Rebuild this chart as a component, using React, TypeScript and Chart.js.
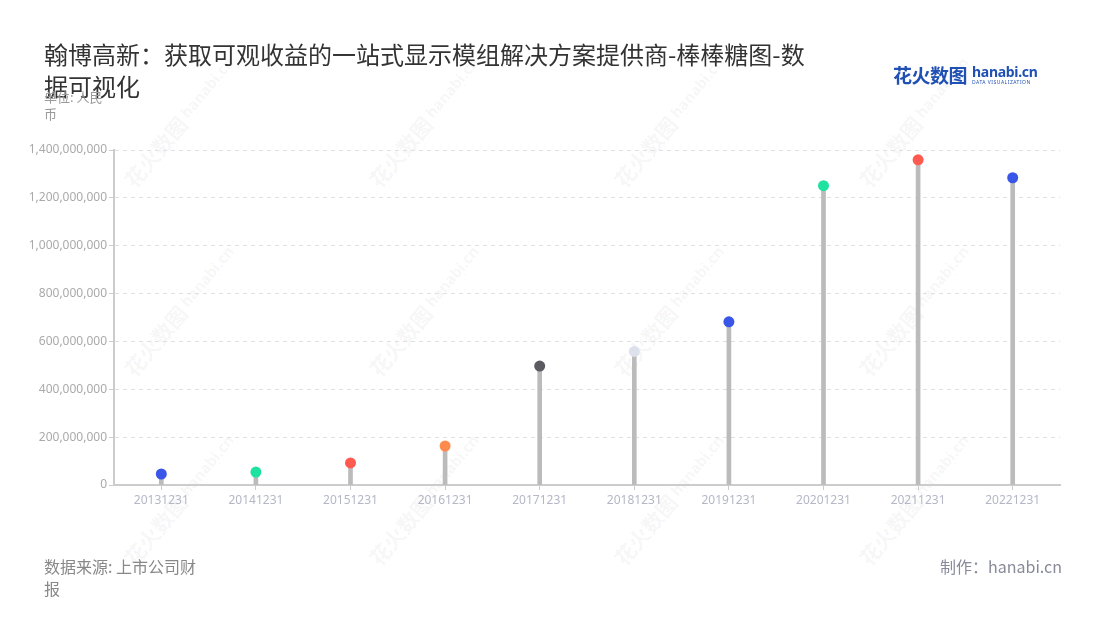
import React, { useEffect, useRef } from "react";
import { Chart, registerables } from "chart.js";

Chart.register(...registerables);

const categories = ["20131231", "20141231", "20151231", "20161231", "20171231", "20181231", "20191231", "20201231", "20211231", "20221231"];
const values = [46000000, 54000000, 92000000, 163000000, 497000000, 558000000, 682000000, 1251000000, 1359000000, 1284000000];
const dotColors = ["#3a56e8", "#1ee3a0", "#ff5a50", "#ff8a4e", "#5b5a62", "#dde1ec", "#3a56e8", "#1ee3a0", "#ff5a50", "#3a56e8"];
const yTicks = [0, 200000000, 400000000, 600000000, 800000000, 1000000000, 1200000000, 1400000000];

const titleLines = ["翰博高新：获取可观收益的一站式显示模组解决方案提供商-棒棒糖图-数", "据可视化"];
const unitLines = ["单位: 人民", "币"];
const sourceLines = ["数据来源: 上市公司财", "报"];
const credit = "制作：hanabi.cn";

const wmX = [180, 425, 670, 915];
const wmY = [122, 311, 500];

const FONT = "'Noto Sans', 'Noto Sans CJK SC', sans-serif";
const CJK = "'Noto Sans CJK SC', 'Noto Sans', sans-serif";

export default function App() {
  const ref = useRef<HTMLCanvasElement | null>(null);

  useEffect(() => {
    if (!ref.current) return;
    const chart = new Chart(ref.current, {
      type: "bar",
      data: {
        labels: categories,
        datasets: [
          {
            type: "line",
            data: values,
            showLine: false,
            pointRadius: 5.5,
            pointHoverRadius: 5.5,
            pointBackgroundColor: dotColors,
            pointBorderWidth: 0,
            order: 0,
          } as any,
          {
            type: "bar",
            data: values,
            backgroundColor: "#bbbbbb",
            barThickness: 4,
            order: 1,
          } as any,
        ],
      },
      options: {
        responsive: false,
        animation: false,
        layout: { padding: { left: 0, right: 40, top: 150, bottom: 0 } },
        plugins: { legend: { display: false }, tooltip: { enabled: false } },
        scales: {
          x: {
            offset: true,
            grid: {
              display: true,
              drawOnChartArea: false,
              drawTicks: true,
              tickLength: 5,
              offset: false,
              color: "#cccccc",
            },
            border: { color: "#cccccc", width: 2 },
            ticks: {
              color: "#b4b7c6",
              font: { size: 12, family: FONT },
              padding: 3,
              maxRotation: 0,
              autoSkip: false,
            },
            afterFit: (s: any) => {
              s.height = 135;
            },
          },
          y: {
            min: 0,
            max: 1400000000,
            afterBuildTicks: (s: any) => {
              s.ticks = yTicks.map((v) => ({ value: v }));
            },
            grid: {
              color: "#e0e0e0",
              tickColor: "#cccccc",
              tickLength: 5,
              tickBorderDash: [],
            } as any,
            border: { color: "#cccccc", width: 2, dash: [4, 4] },
            ticks: {
              color: "#aaaaaa",
              font: { size: 12, family: FONT },
              padding: 2,
              callback: (v: any) => Number(v).toLocaleString("en-US"),
            },
            afterFit: (s: any) => {
              s.width = 114;
            },
          },
        },
      },
    });
    return () => chart.destroy();
  }, []);

  return (
    <div
      style={{
        position: "fixed",
        left: 0,
        top: 0,
        width: 1100,
        height: 620,
        background: "#ffffff",
        overflow: "hidden",
        fontFamily: CJK,
      }}
    >
      {wmX.map((x) =>
        wmY.map((y) => (
          <div
            key={x + "-" + y}
            style={{
              position: "absolute",
              left: x - 90,
              top: y - 16,
              width: 180,
              height: 32,
              transform: "rotate(-50deg)",
              display: "flex",
              alignItems: "center",
              justifyContent: "center",
              color: "rgba(0,0,0,0.055)",
              whiteSpace: "nowrap",
            }}
          >
            <span style={{ fontSize: 21, fontWeight: 700, fontFamily: CJK }}>花火数图</span>
            <span style={{ display: "inline-flex", flexDirection: "column", marginLeft: 4, lineHeight: 1 }}>
              <span style={{ fontSize: 15, fontWeight: 700, fontFamily: FONT }}>hanabi.cn</span>
              <span style={{ fontSize: 4, fontFamily: FONT, letterSpacing: 0.5 }}>DATA VISUALIZATION</span>
            </span>
          </div>
        ))
      )}
      <canvas ref={ref} width={1100} height={620} style={{ position: "absolute", left: 0, top: 0 }} />
      <div
        style={{
          position: "absolute",
          left: 44,
          top: 38,
          fontSize: 24,
          lineHeight: "32px",
          color: "#333333",
          whiteSpace: "nowrap",
        }}
      >
        {titleLines.map((l, i) => (
          <div key={i}>{l}</div>
        ))}
      </div>
      <div
        style={{
          position: "absolute",
          left: 44,
          top: 88,
          fontSize: 13,
          lineHeight: "17px",
          color: "#999999",
          whiteSpace: "nowrap",
        }}
      >
        {unitLines.map((l, i) => (
          <div key={i}>{l}</div>
        ))}
      </div>
      <div
        style={{
          position: "absolute",
          left: 893,
          top: 61,
          display: "flex",
          alignItems: "center",
          whiteSpace: "nowrap",
        }}
      >
        <span style={{ fontSize: 19, fontWeight: 700, color: "#2150b4", letterSpacing: -0.5 }}>花火数图</span>
        <span style={{ display: "inline-flex", flexDirection: "column", marginLeft: 5, lineHeight: 1 }}>
          <span style={{ fontSize: 14, fontWeight: 700, color: "#2150b4", fontFamily: FONT, letterSpacing: -0.3 }}>hanabi.cn</span>
          <span style={{ fontSize: 5, color: "#2150b4", fontFamily: FONT, letterSpacing: 0.5, marginTop: 1 }}>
            DATA VISUALIZATION
          </span>
        </span>
      </div>
      <div
        style={{
          position: "absolute",
          left: 44,
          top: 555,
          fontSize: 16,
          lineHeight: "22px",
          color: "#888888",
          whiteSpace: "nowrap",
        }}
      >
        {sourceLines.map((l, i) => (
          <div key={i}>{l}</div>
        ))}
      </div>
      <div
        style={{
          position: "absolute",
          right: 38,
          top: 555,
          fontSize: 16,
          lineHeight: "22px",
          color: "#888a99",
          whiteSpace: "nowrap",
        }}
      >
        {credit}
      </div>
    </div>
  );
}
